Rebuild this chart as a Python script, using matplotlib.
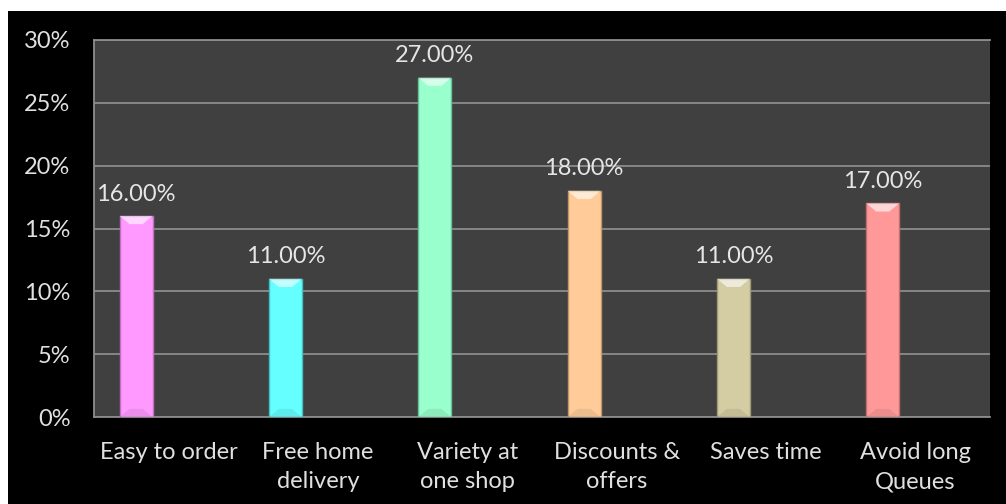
import matplotlib.pyplot as plt
from matplotlib.patches import Polygon, Rectangle
import numpy as np

categories = ["Easy to order", "Free home\ndelivery", "Variety at\none shop",
              "Discounts &\noffers", "Saves time", "Avoid long\nQueues"]
shares = [16, 11, 27, 18, 11, 17]
bar_colors = ["#FF99FF", "#66FFFF", "#99FFCC", "#FFCC99", "#D4CCA2", "#FF9999"]
edge_colors = ["#C070C0", "#40C0C0", "#66C099", "#C09966", "#A09C78", "#C07070"]
yticks = [0, 5, 10, 15, 20, 25, 30]

plt.rcParams['font.family'] = ['Lato', 'DejaVu Sans']

fig = plt.figure(figsize=(10.06, 5.04), dpi=100, facecolor="white")
# black chart area (white strip on top and left, as in the source)
fig.patches.append(Rectangle((8 / 1006, 0), 1, 1 - 11 / 504, transform=fig.transFigure,
                             facecolor="black", edgecolor="none", zorder=-5))

ax = fig.add_axes([94 / 1006, 1 - 417 / 504, 896 / 1006, 377 / 504])
ax.set_zorder(2)
ax.set_facecolor("#404040")

x = np.arange(len(categories))
width = 0.22
offset = -0.218
bars = ax.bar(x + offset, shares, width=width, color=bar_colors,
              edgecolor=edge_colors, linewidth=1.0, zorder=3)

# simple bevel: light trapezoid on top, darker one at the bottom
for b in bars:
    x0, w, h = b.get_x(), b.get_width(), b.get_height()
    d = w * 0.3
    top = Polygon([(x0, h), (x0 + w, h), (x0 + w - d, h - 0.65), (x0 + d, h - 0.65)],
                  closed=True, facecolor="white", alpha=0.6, edgecolor="none", zorder=4)
    bot = Polygon([(x0, 0), (x0 + w, 0), (x0 + w - d, 0.65), (x0 + d, 0.65)],
                  closed=True, facecolor="black", alpha=0.08, edgecolor="none", zorder=4)
    ax.add_patch(top)
    ax.add_patch(bot)
    ax.text(x0 + w / 2, h + 0.9, f"{h:.2f}%", ha="center", va="bottom",
            color="#E6E6E6", fontsize=17)

ax.set_xlim(-0.5, len(categories) - 0.5)
ax.set_ylim(0, 30)
ax.set_yticks(yticks)
ax.set_yticklabels([f"{t}%" for t in yticks])
ax.set_xticks(x)
ax.set_xticklabels(categories, linespacing=1.5)
ax.tick_params(axis="both", colors="#E0E0E0", labelsize=17, length=0)
ax.tick_params(axis="y", pad=17)
ax.tick_params(axis="x", pad=18)

ax.yaxis.grid(True, color="#8C8C8C", linewidth=1.3, zorder=1)
ax.set_axisbelow(True)
ax.spines["right"].set_visible(False)
for side in ["top", "left", "bottom"]:
    ax.spines[side].set_color("#8C8C8C")
    ax.spines[side].set_linewidth(1.3)

fig.savefig("out.png", dpi=100, facecolor=fig.get_facecolor())
